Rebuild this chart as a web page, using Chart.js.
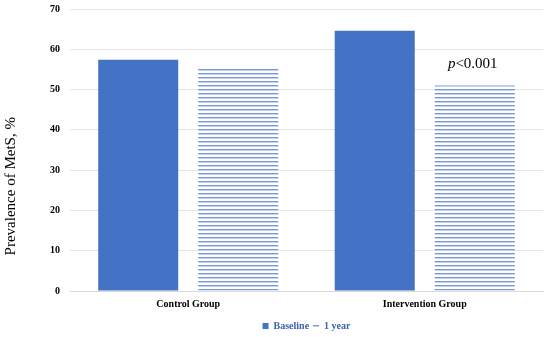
<!DOCTYPE html>
<html>
<head>
<meta charset="utf-8">
<script src="https://cdn.jsdelivr.net/npm/chart.js@4"></script>
<style>
  html, body { margin:0; padding:0; background:#fff; overflow:hidden; }
  #wrap { width:550px; height:348px; margin-top:-7px; }
</style>
</head>
<body>
<div id="wrap"><canvas id="rel1"></canvas></div>
<script>
var groups_list = ['Control Group', 'Intervention Group'];
var baseline_list = [57.4, 64.6];
var year1_list = [55.4, 51.0];
var y_ticks = [0, 10, 20, 30, 40, 50, 60, 70];
var y_title = 'Prevalence of MetS, %';
var note_text = ['', 'p<0.001'];

// horizontal stripes for the "1 year" bars
function stripes() {
  var c = document.createElement('canvas');
  c.width = 4; c.height = 4;
  var g = c.getContext('2d');
  g.fillStyle = '#ffffff';
  g.fillRect(0, 0, 4, 4);
  g.fillStyle = '#7896d4';
  g.fillRect(0, 0, 4, 1);
  g.fillStyle = '#c5d3ee';
  g.fillRect(0, 1, 4, 1);
  return g.createPattern(c, 'repeat');
}

var notePlugin = {
  id: 'note',
  afterDatasetsDraw: function(chart) {
    var ctx = chart.ctx;
    var meta = chart.getDatasetMeta(1);
    note_text.forEach(function(t, i) {
      if (!t) return;
      var bar = meta.data[i];
      var y = chart.scales.y.getPixelForValue(year1_list[i]) - 18;
      ctx.save();
      ctx.fillStyle = '#000';
      ctx.textBaseline = 'alphabetic';
      ctx.font = 'italic 15px "Liberation Serif"';
      var w1 = ctx.measureText('p').width;
      ctx.font = '15px "Liberation Serif"';
      var w2 = ctx.measureText(t.slice(1)).width;
      var x0 = bar.x - 2 - (w1 + w2) / 2;
      ctx.font = 'italic 15px "Liberation Serif"';
      ctx.fillText('p', x0, y);
      ctx.font = '15px "Liberation Serif"';
      ctx.fillText(t.slice(1), x0 + w1, y);
      ctx.restore();
    });

    // y title sits a bit lower than the axis middle in the original
    ctx.save();
    ctx.translate(11, chart.scales.y.getPixelForValue(26));
    ctx.rotate(-Math.PI / 2);
    ctx.fillStyle = '#000';
    ctx.textAlign = 'center';
    ctx.textBaseline = 'middle';
    ctx.font = '15px "Liberation Serif"';
    ctx.fillText(y_title, 0, 0);
    ctx.restore();
  }
};

var rel1 = new Chart(document.getElementById('rel1'), {
  type: 'bar',
  data: {
    labels: groups_list,
    datasets: [{
      label: 'Baseline',
      data: baseline_list,
      backgroundColor: '#4472C4',
      borderWidth: 0
    }, {
      label: '1 year',
      data: year1_list,
      backgroundColor: stripes(),
      borderWidth: 0
    }]
  },
  options: {
    responsive: true,
    maintainAspectRatio: false,
    animation: false,
    layout: { padding: { top: 0, right: 7, left: 0, bottom: 0 } },
    datasets: { bar: { categoryPercentage: 0.846, barPercentage: 0.8 } },
    plugins: {
      tooltip: { enabled: false },
      legend: {
        position: 'bottom',
        fullSize: false,
        labels: {
          boxWidth: 6, boxHeight: 6, padding: 4,
          color: '#3A62AE',
          font: { family: 'Liberation Serif', size: 10, weight: 'bold' }
        }
      }
    },
    scales: {
      x: {
        grid: { display: false, drawTicks: false },
        border: { color: '#d9d9d9' },
        ticks: {
          color: '#000', padding: 7,
          font: { family: 'Liberation Serif', size: 10, weight: 'bold' }
        }
      },
      y: {
        min: 0, max: 70,
        afterBuildTicks: function(s) { s.ticks = y_ticks.map(function(v) { return { value: v }; }); },
        grid: { color: '#e6e6e6', drawTicks: false },
        border: { display: false },
        ticks: {
          color: '#000', padding: 10,
          font: { family: 'Liberation Serif', size: 10, weight: 'bold' }
        },
        title: {
          // space is kept here, the text itself is drawn by the plugin
          display: true, text: y_title, color: 'rgba(0,0,0,0)',
          padding: { top: 2, bottom: 20 },
          font: { family: 'Liberation Serif', size: 15 }
        }
      }
    }
  },
  plugins: [notePlugin]
});
</script>
</body>
</html>
